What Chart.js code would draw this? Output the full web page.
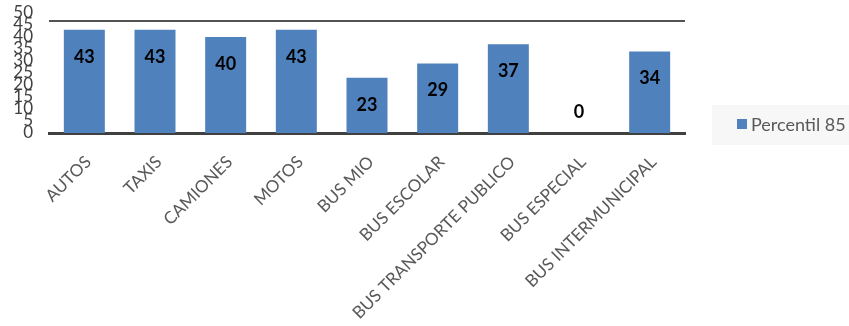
<!DOCTYPE html>
<html>
<head>
<meta charset="utf-8">
<script src="https://cdn.jsdelivr.net/npm/chart.js@4/dist/chart.umd.min.js"></script>
<style>
  html, body { margin: 0; padding: 0; background: #ffffff; }
  #wrap { width: 849px; height: 326px; }
</style>
</head>
<body>
<div id="wrap"><canvas id="chart" width="849" height="326"></canvas></div>
<script>
// Vehicle categories and the 85th percentile speed of each
const categories = ['AUTOS', 'TAXIS', 'CAMIONES', 'MOTOS', 'BUS MIO', 'BUS ESCOLAR',
  'BUS TRANSPORTE PUBLICO', 'BUS ESPECIAL', 'BUS INTERMUNICIPAL'];
const percentil85 = [43, 43, 40, 43, 23, 29, 37, 0, 34];
const seriesName = 'Percentil 85';
const yTicks = [0, 5, 10, 15, 20, 25, 30, 35, 40, 45, 50];

const BAR_COLOR = '#4F81BD';
const FONT = 'Lato, "Open Sans", sans-serif';

// Value labels printed inside the top of each bar
const valueLabels = {
  id: 'valueLabels',
  afterDatasetsDraw(chart) {
    const ctx = chart.ctx;
    const meta = chart.getDatasetMeta(0);
    ctx.save();
    ctx.font = 'bold 18px ' + FONT;
    ctx.fillStyle = '#000000';
    ctx.textAlign = 'center';
    ctx.textBaseline = 'middle';
    meta.data.forEach((bar, i) => {
      const v = percentil85[i];
      const y = v > 0 ? bar.y + 27 : bar.y - 21;
      ctx.fillText(String(v), bar.x, y);
    });
    ctx.restore();
  }
};

// Thin rule across the top of the plot and the legend panel on the right
const frame = {
  id: 'frame',
  afterDraw(chart) {
    const ctx = chart.ctx;
    const a = chart.chartArea;
    ctx.save();
    ctx.strokeStyle = '#1a1a1a';
    ctx.lineWidth = 1.5;
    ctx.beginPath();
    ctx.moveTo(a.left, a.top + 8);
    ctx.lineTo(a.right, a.top + 8);
    ctx.stroke();

    const lx = a.right + 27;
    const ly = a.top + 92;
    ctx.fillStyle = '#F7F7F7';
    ctx.fillRect(lx, ly, chart.width - lx, 40);
    ctx.fillStyle = BAR_COLOR;
    ctx.fillRect(lx + 25, ly + 14, 10, 10);
    ctx.fillStyle = '#595959';
    ctx.font = '18px ' + FONT;
    ctx.textAlign = 'left';
    ctx.textBaseline = 'middle';
    ctx.fillText(seriesName, lx + 39, ly + 20);
    ctx.restore();
  }
};

new Chart(document.getElementById('chart'), {
  type: 'bar',
  data: {
    labels: categories,
    datasets: [{
      label: seriesName,
      data: percentil85,
      backgroundColor: BAR_COLOR,
      borderWidth: 0,
      categoryPercentage: 1,
      barPercentage: 0.58
    }]
  },
  options: {
    responsive: false,
    animation: false,
    layout: { padding: { top: 13, right: 164, left: 0, bottom: 0 } },
    plugins: {
      legend: { display: false },
      tooltip: { enabled: false }
    },
    scales: {
      x: {
        grid: { display: false, drawTicks: false },
        border: { display: true, color: '#404040', width: 3 },
        ticks: {
          color: '#595959',
          font: { family: FONT, size: 17 },
          minRotation: 45,
          maxRotation: 45,
          autoSkip: false,
          labelOffset: 4,
          padding: 19
        },
        afterFit(scale) {
          scale.height = 193;
          scale.paddingLeft = 0;
          scale.paddingRight = 0;
          scale.paddingTop = 0;
        }
      },
      y: {
        min: 0,
        max: 50,
        grid: { display: false, drawTicks: false },
        border: { display: false },
        afterBuildTicks(scale) { scale.ticks = yTicks.map(v => ({ value: v })); },
        ticks: {
          color: '#404040',
          font: { family: FONT, size: 17 },
          autoSkip: false,
          padding: 16
        },
        afterFit(scale) {
          scale.width = 49;
          scale.paddingTop = 0;
          scale.paddingBottom = 0;
        }
      }
    }
  },
  plugins: [valueLabels, frame]
});
</script>
</body>
</html>
